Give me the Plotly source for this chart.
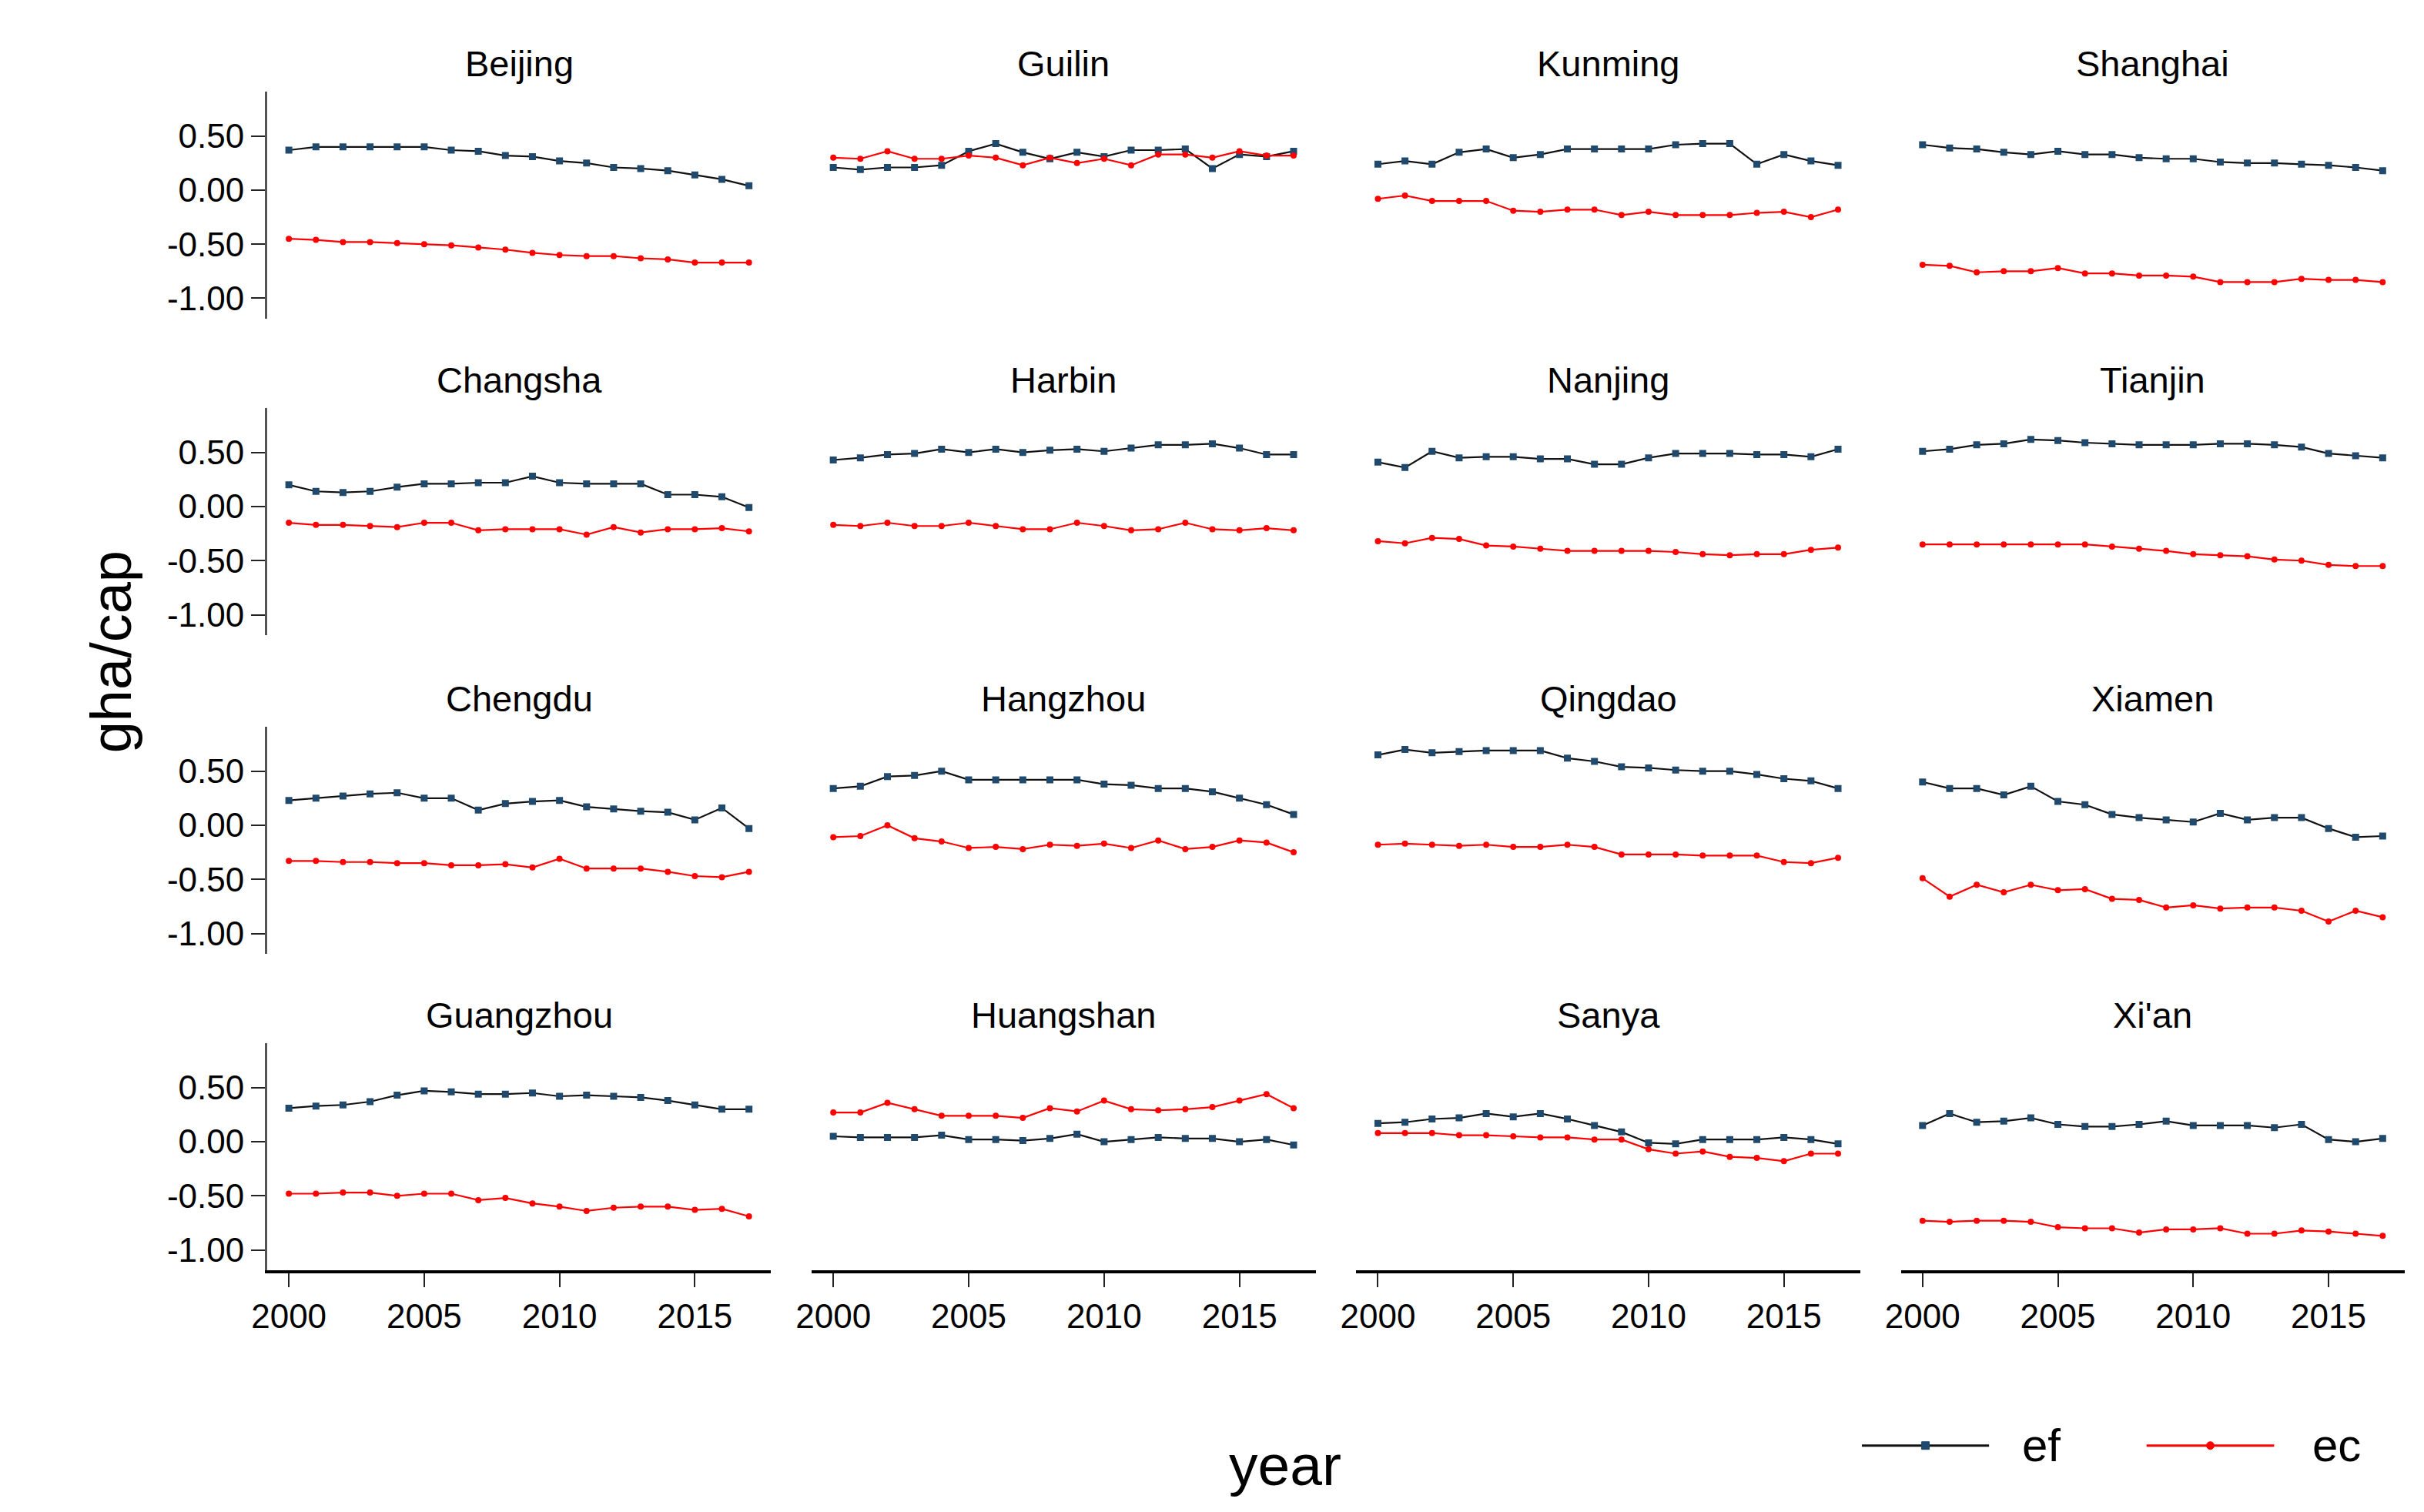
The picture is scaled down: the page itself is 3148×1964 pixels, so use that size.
import plotly.graph_objects as go

years = [2000, 2001, 2002, 2003, 2004, 2005, 2006, 2007, 2008,
         2009, 2010, 2011, 2012, 2013, 2014, 2015, 2016, 2017]

cities = ["Beijing", "Guilin", "Kunming", "Shanghai",
          "Changsha", "Harbin", "Nanjing", "Tianjin",
          "Chengdu", "Hangzhou", "Qingdao", "Xiamen",
          "Guangzhou", "Huangshan", "Sanya", "Xi'an"]

beijing_ef = [0.37, 0.40, 0.40, 0.40, 0.40, 0.40, 0.37, 0.36, 0.32, 0.31, 0.27, 0.25, 0.21, 0.20, 0.18, 0.14, 0.10, 0.04]
beijing_ec = [-0.45, -0.46, -0.48, -0.48, -0.49, -0.50, -0.51, -0.53, -0.55, -0.58, -0.60, -0.61, -0.61, -0.63, -0.64, -0.67, -0.67, -0.67]
guilin_ef = [0.21, 0.19, 0.21, 0.21, 0.23, 0.36, 0.43, 0.35, 0.29, 0.35, 0.31, 0.37, 0.37, 0.38, 0.20, 0.33, 0.31, 0.36]
guilin_ec = [0.30, 0.29, 0.36, 0.29, 0.29, 0.32, 0.30, 0.23, 0.30, 0.25, 0.29, 0.23, 0.33, 0.33, 0.30, 0.36, 0.32, 0.32]
kunming_ef = [0.24, 0.27, 0.24, 0.35, 0.38, 0.30, 0.33, 0.38, 0.38, 0.38, 0.38, 0.42, 0.43, 0.43, 0.24, 0.33, 0.27, 0.23]
kunming_ec = [-0.08, -0.05, -0.10, -0.10, -0.10, -0.19, -0.20, -0.18, -0.18, -0.23, -0.20, -0.23, -0.23, -0.23, -0.21, -0.20, -0.25, -0.18]
shanghai_ef = [0.42, 0.39, 0.38, 0.35, 0.33, 0.36, 0.33, 0.33, 0.30, 0.29, 0.29, 0.26, 0.25, 0.25, 0.24, 0.23, 0.21, 0.18]
shanghai_ec = [-0.69, -0.70, -0.76, -0.75, -0.75, -0.72, -0.77, -0.77, -0.79, -0.79, -0.80, -0.85, -0.85, -0.85, -0.82, -0.83, -0.83, -0.85]
changsha_ef = [0.20, 0.14, 0.13, 0.14, 0.18, 0.21, 0.21, 0.22, 0.22, 0.28, 0.22, 0.21, 0.21, 0.21, 0.11, 0.11, 0.09, -0.01]
changsha_ec = [-0.15, -0.17, -0.17, -0.18, -0.19, -0.15, -0.15, -0.22, -0.21, -0.21, -0.21, -0.26, -0.19, -0.24, -0.21, -0.21, -0.20, -0.23]
harbin_ef = [0.43, 0.45, 0.48, 0.49, 0.53, 0.50, 0.53, 0.50, 0.52, 0.53, 0.51, 0.54, 0.57, 0.57, 0.58, 0.54, 0.48, 0.48]
harbin_ec = [-0.17, -0.18, -0.15, -0.18, -0.18, -0.15, -0.18, -0.21, -0.21, -0.15, -0.18, -0.22, -0.21, -0.15, -0.21, -0.22, -0.20, -0.22]
nanjing_ef = [0.41, 0.36, 0.51, 0.45, 0.46, 0.46, 0.44, 0.44, 0.39, 0.39, 0.45, 0.49, 0.49, 0.49, 0.48, 0.48, 0.46, 0.53]
nanjing_ec = [-0.32, -0.34, -0.29, -0.30, -0.36, -0.37, -0.39, -0.41, -0.41, -0.41, -0.41, -0.42, -0.44, -0.45, -0.44, -0.44, -0.40, -0.38]
tianjin_ef = [0.51, 0.53, 0.57, 0.58, 0.62, 0.61, 0.59, 0.58, 0.57, 0.57, 0.57, 0.58, 0.58, 0.57, 0.55, 0.49, 0.47, 0.45]
tianjin_ec = [-0.35, -0.35, -0.35, -0.35, -0.35, -0.35, -0.35, -0.37, -0.39, -0.41, -0.44, -0.45, -0.46, -0.49, -0.50, -0.54, -0.55, -0.55]
chengdu_ef = [0.23, 0.25, 0.27, 0.29, 0.30, 0.25, 0.25, 0.14, 0.20, 0.22, 0.23, 0.17, 0.15, 0.13, 0.12, 0.05, 0.16, -0.03]
chengdu_ec = [-0.33, -0.33, -0.34, -0.34, -0.35, -0.35, -0.37, -0.37, -0.36, -0.39, -0.31, -0.40, -0.40, -0.40, -0.43, -0.47, -0.48, -0.43]
hangzhou_ef = [0.34, 0.36, 0.45, 0.46, 0.50, 0.42, 0.42, 0.42, 0.42, 0.42, 0.38, 0.37, 0.34, 0.34, 0.31, 0.25, 0.19, 0.10]
hangzhou_ec = [-0.11, -0.10, 0.00, -0.12, -0.15, -0.21, -0.20, -0.22, -0.18, -0.19, -0.17, -0.21, -0.14, -0.22, -0.20, -0.14, -0.16, -0.25]
qingdao_ef = [0.65, 0.70, 0.67, 0.68, 0.69, 0.69, 0.69, 0.62, 0.59, 0.54, 0.53, 0.51, 0.50, 0.50, 0.47, 0.43, 0.41, 0.34]
qingdao_ec = [-0.18, -0.17, -0.18, -0.19, -0.18, -0.20, -0.20, -0.18, -0.20, -0.27, -0.27, -0.27, -0.28, -0.28, -0.28, -0.34, -0.35, -0.30]
xiamen_ef = [0.40, 0.34, 0.34, 0.28, 0.36, 0.22, 0.19, 0.10, 0.07, 0.05, 0.03, 0.11, 0.05, 0.07, 0.07, -0.03, -0.11, -0.10]
xiamen_ec = [-0.49, -0.66, -0.55, -0.62, -0.55, -0.60, -0.59, -0.68, -0.69, -0.76, -0.74, -0.77, -0.76, -0.76, -0.79, -0.89, -0.79, -0.85]
guangzhou_ef = [0.31, 0.33, 0.34, 0.37, 0.43, 0.47, 0.46, 0.44, 0.44, 0.45, 0.42, 0.43, 0.42, 0.41, 0.38, 0.34, 0.30, 0.30]
guangzhou_ec = [-0.48, -0.48, -0.47, -0.47, -0.50, -0.48, -0.48, -0.54, -0.52, -0.57, -0.60, -0.64, -0.61, -0.60, -0.60, -0.63, -0.62, -0.69]
huangshan_ef = [0.05, 0.04, 0.04, 0.04, 0.06, 0.02, 0.02, 0.01, 0.03, 0.07, 0.00, 0.02, 0.04, 0.03, 0.03, 0.00, 0.02, -0.03]
huangshan_ec = [0.27, 0.27, 0.36, 0.30, 0.24, 0.24, 0.24, 0.22, 0.31, 0.28, 0.38, 0.30, 0.29, 0.30, 0.32, 0.38, 0.44, 0.31]
sanya_ef = [0.17, 0.18, 0.21, 0.22, 0.26, 0.23, 0.26, 0.21, 0.15, 0.09, -0.01, -0.02, 0.02, 0.02, 0.02, 0.04, 0.02, -0.02]
sanya_ec = [0.08, 0.08, 0.08, 0.06, 0.06, 0.05, 0.04, 0.04, 0.02, 0.02, -0.07, -0.11, -0.09, -0.14, -0.15, -0.18, -0.11, -0.11]
xian_ef = [0.15, 0.26, 0.18, 0.19, 0.22, 0.16, 0.14, 0.14, 0.16, 0.19, 0.15, 0.15, 0.15, 0.13, 0.16, 0.02, 0.00, 0.03]
xian_ec = [-0.73, -0.74, -0.73, -0.73, -0.74, -0.79, -0.80, -0.80, -0.84, -0.81, -0.81, -0.80, -0.85, -0.85, -0.82, -0.83, -0.85, -0.87]

ef_series = [beijing_ef, guilin_ef, kunming_ef, shanghai_ef,
             changsha_ef, harbin_ef, nanjing_ef, tianjin_ef,
             chengdu_ef, hangzhou_ef, qingdao_ef, xiamen_ef,
             guangzhou_ef, huangshan_ef, sanya_ef, xian_ef]
ec_series = [beijing_ec, guilin_ec, kunming_ec, shanghai_ec,
             changsha_ec, harbin_ec, nanjing_ec, tianjin_ec,
             chengdu_ec, hangzhou_ec, qingdao_ec, xiamen_ec,
             guangzhou_ec, huangshan_ec, sanya_ec, xian_ec]

y_tickvals = [0.5, 0.0, -0.5, -1.0]
y_ticktext = ["0.50", "0.00", "-0.50", "-1.00"]
x_tickvals = [2000, 2005, 2010, 2015]
x_ticktext = ["2000", "2005", "2010", "2015"]
series_names = ["ef", "ec"]

W, H = 3148, 1964
FONT = "Liberation Sans, Arial, sans-serif"
EF_LINE = "#111111"
EF_MARK = "#1F4A6E"
EC_COLOR = "#FF0000"

# panel domains (fractions of the figure)
col_dom = [(0.1017, 0.3110), (0.3278, 0.5372), (0.5540, 0.7633), (0.7802, 0.9895)]
row_dom = [(0.7932, 0.9434), (0.5839, 0.7342), (0.3731, 0.5234), (0.1638, 0.3141)]

fig = go.Figure()
annotations = []
layout = {}

for i, city in enumerate(cities):
    r, c = divmod(i, 4)
    n = i + 1
    xa = "x" if n == 1 else f"x{n}"
    ya = "y" if n == 1 else f"y{n}"
    fig.add_trace(go.Scatter(
        x=years, y=ef_series[i], mode="lines+markers", name=series_names[0],
        xaxis=xa, yaxis=ya, showlegend=False,
        line=dict(color=EF_LINE, width=2.2),
        marker=dict(symbol="square", size=9, color=EF_MARK)))
    fig.add_trace(go.Scatter(
        x=years, y=ec_series[i], mode="lines+markers", name=series_names[1],
        xaxis=xa, yaxis=ya, showlegend=False,
        line=dict(color=EC_COLOR, width=2.2),
        marker=dict(symbol="circle", size=8, color=EC_COLOR)))

    xkey = "xaxis" if n == 1 else f"xaxis{n}"
    ykey = "yaxis" if n == 1 else f"yaxis{n}"
    bottom = (r == 3)
    left = (c == 0)
    layout[xkey] = dict(
        domain=list(col_dom[c]), anchor=ya, range=[1999.2, 2017.82],
        showgrid=False, zeroline=False,
        showline=bottom, linecolor="#000000", linewidth=4,
        ticks="outside" if bottom else "", ticklen=18, tickwidth=2, tickcolor="#222222",
        showticklabels=bottom, tickvals=x_tickvals, ticktext=x_ticktext,
        tickfont=dict(family=FONT, size=44, color="#000000"))
    layout[ykey] = dict(
        domain=list(row_dom[r]), anchor=xa, range=[-1.19, 0.91],
        showgrid=False, zeroline=False,
        showline=left, linecolor="#555555", linewidth=3,
        ticks="outside" if left else "", ticklen=18, tickwidth=2, tickcolor="#222222",
        showticklabels=left, tickvals=y_tickvals, ticktext=y_ticktext,
        tickfont=dict(family=FONT, size=44, color="#000000"))
    annotations.append(dict(
        text=city, xref="paper", yref="paper",
        x=(col_dom[c][0] + col_dom[c][1]) / 2, y=row_dom[r][1],
        xanchor="center", yanchor="middle", yshift=37, showarrow=False,
        font=dict(family=FONT, size=47, color="#000000")))

# axis titles
annotations.append(dict(text="year", xref="paper", yref="paper", x=0.5245, y=0.035,
                        xanchor="center", yanchor="middle", showarrow=False,
                        font=dict(family=FONT, size=75, color="#000000")))
annotations.append(dict(text="gha/cap", xref="paper", yref="paper", x=0.037, y=0.573,
                        xanchor="center", yanchor="middle", showarrow=False, textangle=-90,
                        font=dict(family=FONT, size=74, color="#000000")))

# legend (drawn as layout decoration)
leg_y = 0.048
shapes = []
leg_items = [
    (series_names[0], 0.7640, 0.8168, EF_LINE, EF_MARK, "rect", 0.8300),
    (series_names[1], 0.8822, 0.9352, EC_COLOR, EC_COLOR, "circle", 0.9505),
]
for name, x0, x1, lc, mc, mshape, tx in leg_items:
    shapes.append(dict(type="line", xref="paper", yref="paper", x0=x0, x1=x1,
                       y0=leg_y, y1=leg_y, line=dict(color=lc, width=3)))
    xm = (x0 + x1) / 2
    dx = 5 / W
    dy = 5 / H
    shapes.append(dict(type=mshape, xref="paper", yref="paper",
                       x0=xm - dx, x1=xm + dx, y0=leg_y - dy, y1=leg_y + dy,
                       fillcolor=mc, line=dict(color=mc, width=1)))
    annotations.append(dict(text=name, xref="paper", yref="paper", x=tx, y=leg_y,
                            xanchor="left", yanchor="middle", showarrow=False,
                            font=dict(family=FONT, size=60, color="#000000")))

fig.update_layout(
    width=W, height=H, autosize=False,
    margin=dict(l=0, r=0, t=0, b=0),
    paper_bgcolor="#FFFFFF", plot_bgcolor="#FFFFFF",
    showlegend=False,
    annotations=annotations, shapes=shapes,
    font=dict(family=FONT, color="#000000"),
    **layout)

fig.write_html("out.html")
